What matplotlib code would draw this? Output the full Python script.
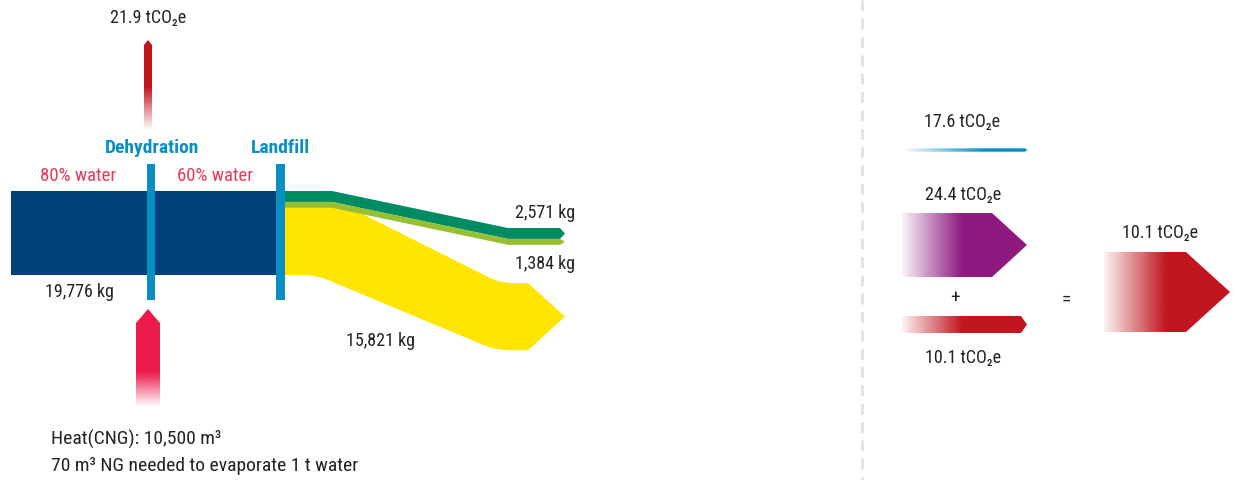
import numpy as np
import matplotlib
matplotlib.use("Agg")
import matplotlib.pyplot as plt
from matplotlib.path import Path
from matplotlib.patches import PathPatch, Rectangle
from matplotlib.colors import to_rgba
from matplotlib import font_manager

# ---------------- data ----------------
input_mass = 19776                      # kg wet input
output_labels = ["2,571 kg", "1,384 kg", "15,821 kg"]
output_mass = [2571, 1384, 15821]       # kg to landfill streams
stage_labels = ["Dehydration", "Landfill"]
water_labels = ["80% water", "60% water"]
dehydration_emission = "21.9 tCO\u2082e"
heat_text = ["Heat(CNG): 10,500 m\u00b3", "70 m\u00b3 NG needed to evaporate 1 t water"]
right_labels = ["17.6 tCO\u2082e", "24.4 tCO\u2082e", "10.1 tCO\u2082e", "10.1 tCO\u2082e"]

installed = {f.name for f in font_manager.fontManager.ttflist}
FAM = ['Roboto Condensed', 'Liberation Sans Narrow', 'Open Sans Condensed', 'Roboto', 'DejaVu Sans']
FAM = [f for f in FAM if f in installed] or ['DejaVu Sans']
narrow = FAM[0] != 'Roboto'
FS = 13 if narrow else 12

NAVY = '#02427a'
BLUE = '#0a8fc4'
DGREEN = '#008c63'
LGREEN = '#96bf32'
YELLOW = '#ffe500'
RED = '#c1161f'
PINK = '#ec1a4b'
PURPLE = '#8e1a7f'
WTXT = '#e8395a'
TXT = '#222222'

fig = plt.figure(figsize=(12.36, 4.8), dpi=100)
ax = fig.add_axes([0, 0, 1, 1])
ax.set_xlim(0, 1236)
ax.set_ylim(480, 0)
ax.axis('off')

scale = 84.0 / input_mass   # px per kg

def closed(verts):
    return Path(verts + [verts[0]], [Path.MOVETO] + [Path.LINETO] * (len(verts) - 1) + [Path.CLOSEPOLY])

def poly(verts, color, z=2):
    p = PathPatch(closed(verts), facecolor=color, edgecolor='none', zorder=z)
    ax.add_patch(p)
    return p

def grad_fill(path, color, extent, horizontal, a0, a_start, a_end, z=2):
    patch = PathPatch(path, facecolor='none', edgecolor='none', zorder=z)
    ax.add_patch(patch)
    r, g, b, _ = to_rgba(color)
    n = 256
    x0, x1, y0, y1 = extent
    if horizontal:
        coords = np.linspace(x0, x1, n)
        alpha = np.clip((coords - a_start) / (a_end - a_start), 0, 1) * (1 - a0) + a0
        arr = np.zeros((2, n, 4))
        arr[..., 0], arr[..., 1], arr[..., 2] = r, g, b
        arr[..., 3] = alpha[None, :]
    else:
        coords = np.linspace(y0, y1, n)
        alpha = np.clip((coords - a_start) / (a_end - a_start), 0, 1) * (1 - a0) + a0
        arr = np.zeros((n, 2, 4))
        arr[..., 0], arr[..., 1], arr[..., 2] = r, g, b
        arr[..., 3] = alpha[:, None]
    im = ax.imshow(arr, extent=(x0, x1, y1, y0), origin='upper', aspect='auto',
                   interpolation='bilinear', zorder=z)
    im.set_clip_path(patch)
    ax.set_xlim(0, 1236)
    ax.set_ylim(480, 0)

# ---------------- main band ----------------
top = 191
thick = input_mass * scale
ax.add_patch(Rectangle((11, top), 270, thick, facecolor=NAVY, edgecolor='none', zorder=2))

# green bands
t_dg = output_mass[0] * scale
t_lg = output_mass[1] * scale
xs = [283, 332, 508, 560]
dy = [0, 0, 37, 37]
y_dg = [top + d for d in dy]
dg = [(x, y) for x, y in zip(xs, y_dg)] + [(565, y_dg[-1] + t_dg / 2)] + \
     [(x, y + t_dg) for x, y in zip(xs[::-1], y_dg[::-1])]
poly(dg, DGREEN, 3)
y_lg = [y + t_dg for y in y_dg]
lg = [(x, y) for x, y in zip(xs, y_lg)] + [(565, y_lg[-1] + t_lg / 2)] + \
     [(x, y + t_lg) for x, y in zip(xs[::-1], y_lg[::-1])]
poly(lg, LGREEN, 3)

# yellow band
yt = top + t_dg + t_lg
yb = top + thick
ty = 283
by = ty + output_mass[2] * scale
verts = [(283, yt), (330, yt), (345, yt), (350, yt + 2), (362, yt + 6),
         (490, ty - 5), (500, ty - 1), (505, ty), (515, ty),
         (528, ty), (565, (ty + by) / 2), (528, by),
         (510, by), (495, by), (485, by - 4), (472, by - 10),
         (335, yb + 8), (325, yb + 3), (315, yb), (300, yb),
         (283, yb), (283, yt)]
codes = [Path.MOVETO, Path.LINETO, Path.CURVE4, Path.CURVE4, Path.CURVE4,
         Path.LINETO, Path.CURVE4, Path.CURVE4, Path.CURVE4,
         Path.LINETO, Path.LINETO, Path.LINETO,
         Path.LINETO, Path.CURVE4, Path.CURVE4, Path.CURVE4,
         Path.LINETO, Path.CURVE4, Path.CURVE4, Path.CURVE4,
         Path.LINETO, Path.CLOSEPOLY]
ax.add_patch(PathPatch(Path(verts, codes), facecolor=YELLOW, edgecolor='none', zorder=2))

# stage bars
ax.add_patch(Rectangle((146.5, 164), 8, 136, facecolor=BLUE, edgecolor='none', zorder=4))
ax.add_patch(Rectangle((276, 164), 8.5, 136, facecolor=BLUE, edgecolor='none', zorder=4))

# emission arrow (up)
cx = 148
up = [(cx - 4, 130), (cx - 4, 45), (cx, 40), (cx + 4, 45), (cx + 4, 130)]
grad_fill(closed(up), RED, (cx - 5, cx + 5, 40, 130), False, 0.0, 130, 87, z=2)

# heat arrow (up into dehydration)
hx = 148
hp = [(hx - 12, 407), (hx - 12, 323), (hx, 309), (hx + 12, 323), (hx + 12, 407)]
grad_fill(closed(hp), PINK, (hx - 13, hx + 13, 309, 407), False, 0.0, 407, 372, z=2)

def T(x, y, s, **kw):
    d = dict(family=FAM, fontsize=FS, color=TXT, va='baseline')
    d.update(kw)
    ax.text(x, y, s, **d)

# texts
T(148, 23, dehydration_emission, ha='center')
T(152, 153, stage_labels[0], weight='bold', color=BLUE, ha='center', fontsize=FS + 1)
T(280, 153, stage_labels[1], weight='bold', color=BLUE, ha='center', fontsize=FS + 1)
T(78.5, 181, water_labels[0], color=WTXT, ha='center', fontsize=FS + 0.5)
T(215, 181, water_labels[1], color=WTXT, ha='center', fontsize=FS + 0.5)
T(45, 297, "19,776 kg", ha='left')
T(515, 218, output_labels[0], ha='left')
T(515, 269, output_labels[1], ha='left')
T(346, 346, output_labels[2], ha='left')
T(51, 445, heat_text[0], ha='left', fontsize=FS + 1)
T(51, 471, heat_text[1], ha='left', fontsize=FS + 1)

# divider
ax.plot([862, 862], [0, 480], color='#e4e4e4', lw=2.2, dashes=(3.5, 2.5), zorder=1)

# right panel
bl = [(902, 148.3), (1025, 148.3), (1027.5, 150), (1025, 151.7), (902, 151.7)]
grad_fill(closed(bl), BLUE, (900, 1028, 148, 152), True, 0.0, 902, 985)
T(962, 126.5, right_labels[0], ha='center')

pp = [(902, 213), (992, 213), (1027, 245), (992, 277), (902, 277)]
grad_fill(closed(pp), PURPLE, (902, 1028, 213, 277), True, 0.05, 902, 962)
T(963, 200, right_labels[1], ha='center')

T(955, 298, "+", fontsize=FS + 1, va='center', ha='center')

rp = [(902, 316), (1021, 316), (1027, 324.5), (1021, 333), (902, 333)]
grad_fill(closed(rp), RED, (902, 1028, 316, 333), True, 0.05, 902, 962)
T(963, 363, right_labels[2], ha='center')

T(1066, 300, "=", fontsize=FS + 1, va='center', ha='center')

bp = [(1104, 252), (1186, 252), (1230, 292), (1186, 332), (1104, 332)]
grad_fill(closed(bp), RED, (1104, 1231, 252, 332), True, 0.05, 1104, 1166)
T(1160, 238, right_labels[3], ha='center')

fig.savefig("out.png", dpi=100, facecolor='white')
